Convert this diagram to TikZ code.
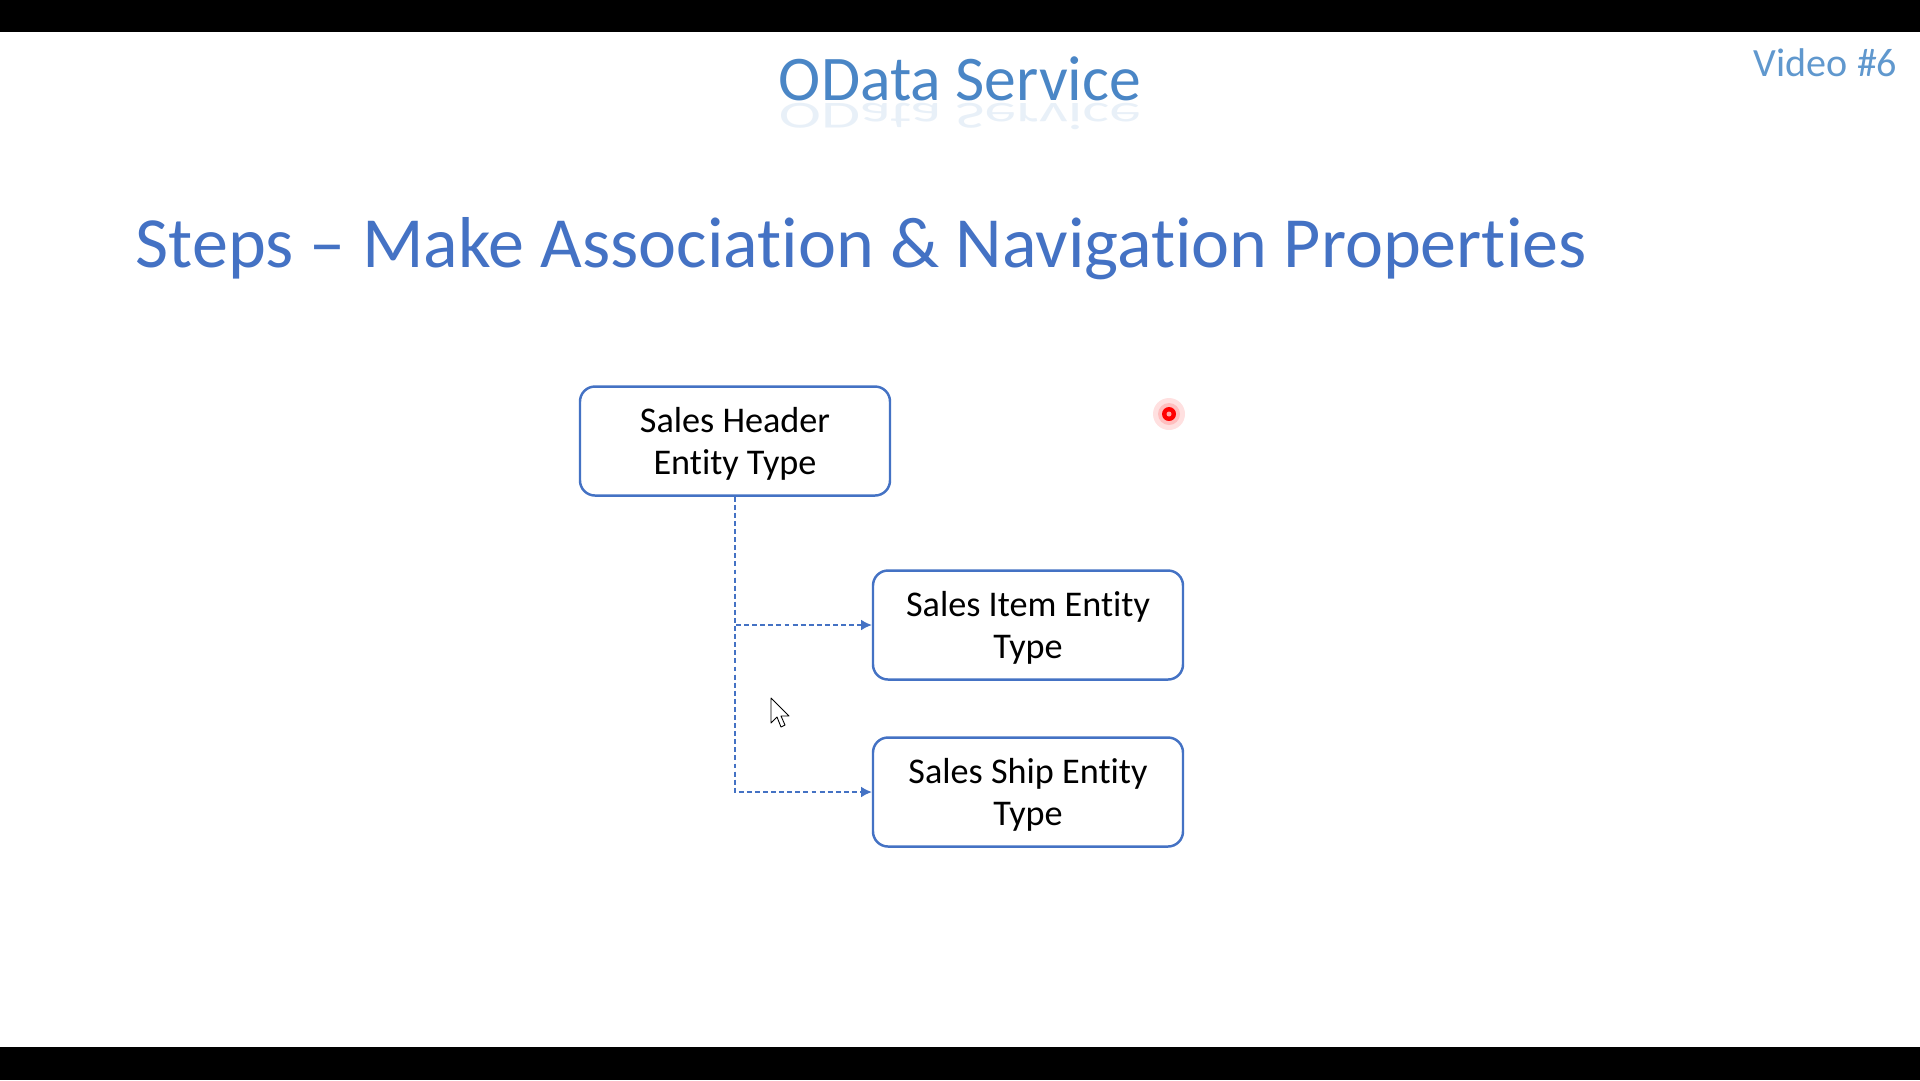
\documentclass[tikz,border=0pt]{standalone}
\usepackage{fontspec}
\setmainfont{Carlito}[Ligatures=CommonOff]
\usetikzlibrary{arrows.meta}

\definecolor{stepblue}{RGB}{68,114,196}
\definecolor{odblue}{RGB}{74,134,198}
\definecolor{vidblue}{RGB}{96,152,206}

\tikzset{
  entity/.style={draw=stepblue,line width=0.7pt,rounded corners=1.5mm,fill=white,
    minimum width=31mm,minimum height=10.9mm,align=center,text depth=0pt,
    font=\fontsize{10.3}{11.9}\selectfont},
  assoc/.style={draw=stepblue,line width=0.35pt,dash pattern=on 1.4pt off 0.9pt,
    -{Latex[length=3pt,width=3pt]}},
  heading/.style={inner sep=0pt}
}

\begin{document}
\begin{tikzpicture}[x=0.1mm,y=-0.1mm]
      \useasboundingbox (0,0) rectangle (1920,1080);
      \fill[white] (0,0) rectangle (1920,1080);
      \fill[black] (0,0) rectangle (1920,32);
      \fill[black] (0,1047) rectangle (1920,1080);

      % headings
      \node[heading,anchor=base,text=odblue,font=\fontsize{18.1}{22}\selectfont] (svc) at (960,100) {OData Service};
      \node[heading,anchor=base,text=odblue,opacity=0.12,yscale=-0.6,font=\fontsize{18.1}{22}\selectfont] (svcr) at (960,103) {OData Service};
      \node[heading,anchor=base east,text=vidblue,font=\fontsize{11.4}{14}\selectfont] (vid) at (1898,76) {Video \#6};
      \node[heading,anchor=base west,text=stepblue,font=\fontsize{20.5}{25}\selectfont] (steps) at (135,267) {Steps -- Make Association \& Navigation Properties};

      \node[entity] (hdr) at (735,441) {Sales Header\\Entity Type};
      \node[entity] (item) at (1028,625) {Sales Item Entity\\Type};
      \node[entity] (ship) at (1028,792) {Sales Ship Entity\\Type};

      \draw[assoc] (hdr.south) |- (item.west);
      \draw[assoc] (hdr.south) |- (ship.west);

      % pointer and cursor
      \fill[red,opacity=0.12] (1169,414) circle (16);
      \fill[red,opacity=0.15] (1169,414) circle (11);
      \fill[red] (1169,414) circle (7);
      \fill[red!35] (1169,414) circle (2.5);
      \draw[black,fill=white,line width=0.25pt,line join=round]
        (771,698) -- (771,723) -- (777,717) -- (781,727) -- (785,725) -- (781,716) -- (789,716) -- cycle;
    \end{tikzpicture}
\end{document}
